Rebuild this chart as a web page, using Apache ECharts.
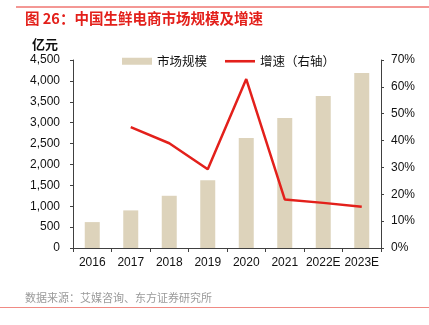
<!DOCTYPE html>
<html>
<head>
<meta charset="utf-8">
<script src="https://cdn.jsdelivr.net/npm/echarts@6/dist/echarts.min.js"></script>
<style>
  html, body { margin: 0; padding: 0; background: #fff; }
  #chart { width: 429px; height: 325px; }
</style>
</head>
<body>
<div id="chart"></div>
<script>
// Fresh-food e-commerce market size (100M RMB) and growth rate
const years = ['2016', '2017', '2018', '2019', '2020', '2021', '2022E', '2023E'];
const marketSize = [620, 900, 1250, 1620, 2630, 3110, 3640, 4190];
const growthRate = [null, 45.0, 39.0, 29.3, 62.9, 18.1, 16.8, 15.4];
const leftTicks = { min: 0, max: 4500, interval: 500 };
const rightTicks = { min: 0, max: 70, interval: 10 };

const latin = '"Liberation Sans", Arial, "Noto Sans CJK SC", sans-serif';
const cjk = '"Noto Sans CJK SC", "Liberation Sans", sans-serif';
const axisColor = '#404040';

const chart = echarts.init(document.getElementById('chart'), null, { renderer: 'canvas' });

chart.setOption({
  animation: false,
  backgroundColor: '#ffffff',
  grid: { left: 73, right: 48, top: 60, bottom: 77, containLabel: false },
  graphic: [
    { type: 'line', shape: { x1: 16, y1: 7, x2: 429, y2: 7 }, style: { stroke: '#e8302a', lineWidth: 1 } },
    { type: 'text', left: 25, top: 11, style: { text: '图 26：中国生鲜电商市场规模及增速', fill: '#e3201b', font: 'bold 14.5px ' + cjk } },
    { type: 'text', left: 32, top: 38, style: { text: '亿元', fill: '#111', font: 'bold 13px ' + cjk } },
    { type: 'text', left: 25, top: 292, style: { text: '数据来源：艾媒咨询、东方证券研究所', fill: '#9a9a9a', font: '11px ' + cjk } },
    { type: 'line', shape: { x1: 0, y1: 307.5, x2: 429, y2: 307.5 }, style: { stroke: '#f08a84', lineWidth: 1 } }
  ],
  legend: {
    left: 117,
    top: 50,
    itemWidth: 30,
    itemHeight: 7,
    itemGap: 18,
    symbolKeepAspect: true,
    textStyle: { fontFamily: cjk, fontSize: 12.5, color: '#111' },
    data: [
      { name: '市场规模', icon: 'rect' },
      { name: '增速（右轴）', icon: 'path://M0,0 L30,0 L30,2.6 L0,2.6 Z', itemStyle: { color: '#e3201b' } }
    ]
  },
  xAxis: {
    type: 'category',
    data: years,
    axisLine: { lineStyle: { color: axisColor, width: 1 } },
    axisTick: { show: true, length: 4, alignWithLabel: false, lineStyle: { color: axisColor } },
    axisLabel: { color: '#111', fontFamily: latin, fontSize: 12, margin: 9, interval: 0 }
  },
  yAxis: [
    {
      type: 'value',
      min: leftTicks.min, max: leftTicks.max, interval: leftTicks.interval,
      axisLine: { show: true, lineStyle: { color: axisColor } },
      axisTick: { show: true, length: 3, lineStyle: { color: axisColor } },
      splitLine: { show: false },
      axisLabel: {
        color: '#111', fontFamily: latin, fontSize: 12, margin: 13,
        formatter: v => v.toLocaleString('en-US')
      }
    },
    {
      type: 'value',
      min: rightTicks.min, max: rightTicks.max, interval: rightTicks.interval,
      position: 'right',
      axisLine: { show: true, lineStyle: { color: axisColor } },
      axisTick: { show: true, length: 3, lineStyle: { color: axisColor } },
      splitLine: { show: false },
      axisLabel: { color: '#111', fontFamily: latin, fontSize: 12, margin: 10, formatter: v => v + '%' }
    }
  ],
  series: [
    {
      name: '市场规模',
      type: 'bar',
      data: marketSize,
      barWidth: 15,
      itemStyle: { color: '#ddd3bb' }
    },
    {
      name: '增速（右轴）',
      type: 'line',
      yAxisIndex: 1,
      data: growthRate,
      symbol: 'none',
      connectNulls: false,
      lineStyle: { color: '#e3201b', width: 2.5 },
      itemStyle: { color: '#e3201b' }
    }
  ]
});
</script>
</body>
</html>
